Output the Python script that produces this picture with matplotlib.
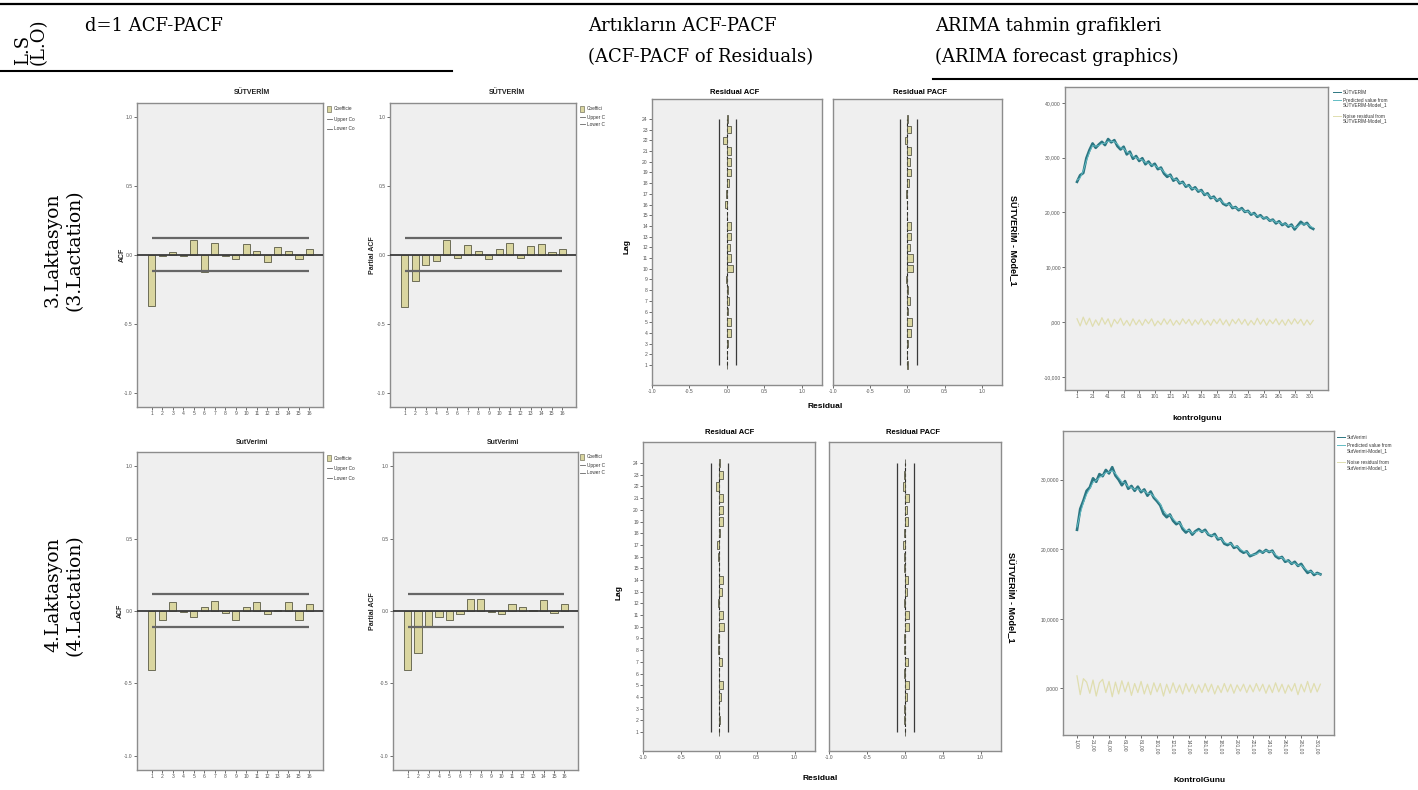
import matplotlib
matplotlib.use("Agg")
import matplotlib.pyplot as plt
from matplotlib.patches import Rectangle
from matplotlib.lines import Line2D

# d=1 ACF / PACF (lags 1-16)
lags16 = list(range(1, 17))
acf_l3 = [-0.37, -0.01, 0.02, -0.01, 0.11, -0.12, 0.09, -0.01,
          -0.03, 0.08, 0.03, -0.05, 0.06, 0.03, -0.03, 0.04]
pacf_l3 = [-0.375, -0.19, -0.07, -0.045, 0.11, -0.02, 0.075, 0.03,
           -0.03, 0.04, 0.085, -0.02, 0.065, 0.08, 0.02, 0.045]
acf_l4 = [-0.41, -0.06, 0.065, -0.01, -0.04, 0.03, 0.07, -0.015,
          -0.06, 0.03, 0.06, -0.02, 0.005, 0.063, -0.063, 0.047]
pacf_l4 = [-0.41, -0.29, -0.11, -0.04, -0.06, -0.02, 0.08, 0.08,
           -0.01, -0.02, 0.05, 0.03, 0.005, 0.075, -0.015, 0.045]
ci_l3 = [0.12, -0.115]
ci_l4 = [0.118, -0.11]
# legend labels, cut off by the neighbouring chart
acf_leg = ["Coefficie", "Upper Co", "Lower Co"]
pacf_leg = ["Coeffici", "Upper C", "Lower C"]

# residual ACF / PACF (lags 1-24)
lags24 = list(range(1, 25))
res_acf_l3 = [0.005, -0.005, 0.01, 0.05, 0.06, 0.01, 0.03, 0.01, -0.01, 0.08, 0.06, 0.04,
              0.05, 0.05, -0.005, -0.02, -0.01, 0.03, 0.05, 0.05, 0.06, -0.05, 0.06, 0.01]
res_pacf_l3 = [0.005, -0.005, 0.01, 0.05, 0.06, 0.005, 0.03, 0.005, -0.02, 0.07, 0.07, 0.04,
               0.05, 0.05, -0.005, -0.01, -0.02, 0.02, 0.05, 0.03, 0.05, -0.03, 0.05, 0.01]
res_acf_l4 = [0.005, 0.01, 0.005, 0.03, 0.06, 0.005, 0.04, -0.01, -0.01, 0.07, 0.05, -0.005,
              0.04, 0.05, 0.005, -0.01, -0.02, 0.02, 0.05, 0.05, 0.06, -0.04, 0.06, 0.01]
res_pacf_l4 = [0.005, -0.01, -0.005, 0.03, 0.05, -0.01, 0.04, -0.005, -0.01, 0.06, 0.05, -0.005,
               0.03, 0.04, -0.01, -0.005, -0.02, -0.01, 0.04, 0.03, 0.05, -0.02, -0.01, 0.005]
res_ci = [-0.10, 0.125]

# ARIMA: control day, observed milk yield, model prediction, noise residual
days = list(range(1, 306, 4))
day_ticks = list(range(1, 302, 20))
obs_l3 = [25.6, 26.8, 27.2, 29.9, 31.4, 32.6, 31.8, 32.4, 32.9, 32.3,
          33.4, 32.8, 33.2, 32.1, 31.5, 32.0, 30.6, 31.1, 29.8, 30.3,
          29.4, 29.9, 28.8, 29.3, 28.5, 28.9, 27.9, 28.2, 27.1, 26.5,
          26.9, 25.8, 26.2, 25.3, 25.6, 24.7, 25.0, 24.2, 24.6, 23.8,
          24.1, 23.2, 23.5, 22.6, 22.9, 22.1, 22.5, 21.6, 21.3, 21.7,
          20.8, 21.0, 20.4, 20.8, 20.1, 20.3, 19.6, 19.9, 19.2, 19.5,
          18.9, 19.1, 18.5, 18.7, 18.0, 18.4, 17.7, 18.0, 17.4, 17.8,
          16.9, 17.6, 18.3, 17.8, 18.1, 17.3, 17.0]
pred_l3 = [25.9, 26.3, 27.6, 29.4, 31.0, 32.2, 32.1, 32.2, 32.6, 32.6,
           33.0, 33.0, 32.9, 32.5, 31.8, 31.7, 31.0, 30.8, 30.2, 30.0,
           29.7, 29.6, 29.1, 29.0, 28.7, 28.6, 28.2, 28.0, 27.4, 26.9,
           26.7, 26.1, 26.0, 25.5, 25.4, 24.9, 24.8, 24.4, 24.4, 24.0,
           23.9, 23.4, 23.3, 22.8, 22.7, 22.3, 22.3, 21.8, 21.5, 21.5,
           21.0, 20.9, 20.6, 20.6, 20.2, 20.2, 19.8, 19.7, 19.4, 19.3,
           19.0, 19.0, 18.6, 18.6, 18.2, 18.2, 17.9, 17.9, 17.6, 17.6,
           17.2, 17.4, 17.9, 17.9, 17.9, 17.5, 17.2]
noise_l3 = [0.6, -0.7, 0.9, -0.5, 0.7, -0.8, 0.4, -0.6, 0.8, -0.4,
            0.6, -0.9, 0.5, -0.3, 0.7, -0.6, 0.3, -0.7, 0.6, -0.5,
            0.4, -0.6, 0.5, -0.3, 0.6, -0.7, 0.2, -0.5, 0.6, -0.4,
            0.5, -0.6, 0.3, -0.5, 0.6, -0.3, 0.5, -0.6, 0.4, -0.4,
            0.6, -0.5, 0.3, -0.6, 0.5, -0.3, 0.6, -0.5, 0.4, -0.7,
            0.5, -0.3, 0.6, -0.4, 0.5, -0.6, 0.3, -0.5, 0.7, -0.4,
            0.5, -0.6, 0.4, -0.3, 0.6, -0.5, 0.4, -0.6, 0.5, -0.4,
            0.6, -0.3, 0.5, -0.6, 0.4, -0.5, 0.3]
obs_l4 = [22.8, 25.8, 27.0, 28.4, 28.9, 30.2, 29.7, 30.8, 30.5, 31.4,
          30.9, 31.8, 30.6, 30.0, 29.2, 29.8, 28.7, 29.1, 28.4, 29.0,
          28.2, 28.6, 27.7, 28.3, 27.4, 26.9, 26.3, 25.1, 24.6, 25.0,
          24.1, 23.6, 23.9, 22.9, 22.4, 22.8, 22.1, 22.6, 22.9, 22.5,
          22.8, 22.1, 21.9, 22.2, 21.4, 21.6, 20.8, 20.6, 20.9, 20.2,
          20.4, 19.8, 19.5, 19.7, 19.0, 19.2, 19.4, 19.8, 19.5, 19.9,
          19.6, 19.8, 19.0, 18.7, 18.9, 18.2, 18.4, 17.9, 18.2, 17.6,
          17.9, 17.2, 16.6, 16.9, 16.3, 16.6, 16.4]
pred_l4 = [23.2, 25.1, 26.7, 27.9, 28.7, 29.6, 29.9, 30.3, 30.6, 31.0,
           31.1, 31.3, 30.9, 30.3, 29.7, 29.5, 29.0, 28.9, 28.6, 28.7,
           28.4, 28.4, 28.0, 28.0, 27.6, 27.1, 26.5, 25.6, 25.0, 24.9,
           24.4, 23.9, 23.8, 23.2, 22.7, 22.7, 22.3, 22.5, 22.7, 22.6,
           22.6, 22.2, 22.0, 22.0, 21.6, 21.5, 21.0, 20.8, 20.8, 20.4,
           20.4, 20.0, 19.7, 19.6, 19.2, 19.2, 19.3, 19.6, 19.6, 19.8,
           19.7, 19.7, 19.2, 18.9, 18.8, 18.4, 18.3, 18.0, 18.0, 17.7,
           17.7, 17.3, 16.9, 16.8, 16.5, 16.5, 16.4]
noise_l4 = [1.8, -0.9, 1.4, 0.9, -0.7, 1.2, -1.1, 0.8, 1.3, -0.6,
            1.0, -1.2, 0.9, -0.8, 1.1, -0.5, 0.9, -1.0, 0.7, -0.6,
            1.0, -0.8, 0.6, -0.9, 0.8, -0.5, 0.7, -1.1, 0.6, -0.7,
            0.8, -0.6, 0.5, -0.8, 0.7, -0.5, 0.6, -0.7, 0.5, -0.6,
            0.7, -0.5, 0.6, -0.8, 0.4, -0.6, 0.7, -0.5, 0.6, -0.7,
            0.5, -0.4, 0.6, -0.6, 0.5, -0.5, 0.7, -0.4, 0.6, -0.7,
            0.5, -0.6, 0.8, -0.5, 0.6, -0.7, 0.5, -0.4, 0.7, -0.9,
            0.6, -0.5, 1.0, -0.6, 0.7, -0.5, 0.6]

W, H = 1418, 790
SANS = "Liberation Sans"
SERIF = "DejaVu Serif"
BG = "#efefef"
SPINE = "#8c8c8c"
BAR = "#dad6a0"
BAR_EDGE = "#5a5a44"
CI = "#666666"
OBS = "#2c7682"
PRED = "#62bcc4"
NOISE = "#e0deb0"

plt.rcParams["font.family"] = SANS
fig = plt.figure(figsize=(W / 100, H / 100), dpi=100)
fig.patch.set_facecolor("white")


def box(x0, y0, x1, y1):
    return [x0 / W, 1 - y1 / H, (x1 - x0) / W, (y1 - y0) / H]


def fx(x):
    return x / W


def fy(y):
    return 1 - y / H


def style(ax):
    ax.set_facecolor(BG)
    for s in ax.spines.values():
        s.set_color(SPINE)
        s.set_linewidth(1.0)
    ax.tick_params(labelsize=3.6, length=2, width=0.6, colors="#555555", pad=1)


def canvas(x0, y0, x1, y1):
    c = fig.add_axes(box(x0, y0, x1, y1))
    c.axis("off")
    return c


def ptext(x, y, s, **kw):
    fig.text(fx(x), fy(y), s, **kw)


def acf_legend(c, x, ys, names):
    c.add_patch(Rectangle((fx(x), fy(ys[0] + 3)), 4 / W, 6 / H, transform=fig.transFigure,
                          facecolor=BAR, edgecolor=BAR_EDGE, lw=0.4))
    for y in ys[1:]:
        c.add_line(Line2D([fx(x), fx(x + 5)], [fy(y), fy(y)], transform=fig.transFigure,
                          color=CI, lw=0.6))
    for y, t in zip(ys, names):
        c.text(fx(x + 7), fy(y), t, transform=fig.transFigure, fontsize=3.4,
               va="center", ha="left", color="#333333", clip_on=True)


def acf_panel(b, vals, ci, ylab, ylab_x, title, title_x, title_y):
    ax = fig.add_axes(box(*b))
    style(ax)
    ax.bar(lags16, vals, width=0.7, color=BAR, edgecolor=BAR_EDGE, linewidth=0.6, zorder=2)
    ax.hlines(ci, 1, 16, color=CI, lw=1.6, zorder=3)
    ax.axhline(0, color="#3a3a3a", lw=1.3, zorder=4)
    ax.set_xlim(-0.4, 17.3)
    ax.set_ylim(-1.1, 1.1)
    ax.set_xticks(lags16)
    ax.set_xticklabels([str(l) for l in lags16])
    ax.set_yticks([-1, -0.5, 0, 0.5, 1])
    ax.set_yticklabels(["-1.0", "-0.5", "0.0", "0.5", "1.0"])
    ymid = (b[1] + b[3]) / 2
    ptext(ylab_x, ymid, ylab, rotation=90, fontsize=5, fontweight="bold",
          ha="center", va="center", color="#222222")
    ptext(title_x, title_y, title, fontsize=5, fontweight="bold", ha="center",
          va="center", color="#222222")
    return ax


def resid_panel(b, vals, ylim, show_lags):
    ax = fig.add_axes(box(*b))
    style(ax)
    ax.vlines(0, 1, 24, color="#222222", lw=0.8, linestyles=(0, (3, 2)), zorder=1)
    ax.barh(lags24, vals, height=0.7, color=BAR, edgecolor="#3d3d30", linewidth=0.5, zorder=2)
    ax.vlines(res_ci, 1, 24, color="#3a3a3a", lw=0.9, zorder=3)
    ax.set_xlim(-1.0, 1.27)
    ax.set_ylim(*ylim)
    ax.set_xticks([-1, -0.5, 0, 0.5, 1])
    ax.set_xticklabels(["-1.0", "-0.5", "0.0", "0.5", "1.0"])
    ax.set_yticks(lags24)
    if show_lags:
        ax.set_yticklabels([str(l) for l in lags24])
    else:
        ax.tick_params(axis="y", left=False, labelleft=False)
    return ax


def arima_panel(b, obs, pred, noise, ylim, xlim, yt, ytl, xtl, xrot):
    ax = fig.add_axes(box(*b))
    style(ax)
    ax.plot(days, noise, color=NOISE, lw=0.9)
    ax.plot(days, obs, color=OBS, lw=1.9)
    ax.plot(days, pred, color=PRED, lw=0.7)
    ax.set_xlim(*xlim)
    ax.set_ylim(*ylim)
    ax.set_yticks(yt)
    ax.set_yticklabels(ytl)
    ax.set_xticks(day_ticks)
    ax.set_xticklabels(xtl, rotation=xrot)
    return ax


def arima_legend(c, x, rows):
    for y, col, t in rows:
        c.add_line(Line2D([fx(x), fx(x + 8)], [fy(y), fy(y)], transform=fig.transFigure,
                          color=col, lw=0.7))
        c.text(fx(x + 10), fy(y - 2), t, transform=fig.transFigure, fontsize=3.4,
               va="top", ha="left", color="#333333", linespacing=1.0, clip_on=True)


# ---- header rows ----
fig.add_artist(Line2D([0, 1], [fy(4), fy(4)], transform=fig.transFigure, color="black", lw=1.6))
fig.add_artist(Line2D([0, fx(452)], [fy(71), fy(71)], transform=fig.transFigure, color="black", lw=1.5))
fig.add_artist(Line2D([fx(933), 1], [fy(79), fy(79)], transform=fig.transFigure, color="black", lw=1.5))

hdr = dict(family=SERIF, fontsize=13, color="black")
ptext(28, 65, "L.S", rotation=90, rotation_mode="anchor", ha="left", va="baseline", **hdr)
ptext(44, 65, "(L.O)", rotation=90, rotation_mode="anchor", ha="left", va="baseline", **hdr)
ptext(85, 31, "d=1 ACF-PACF", ha="left", va="baseline", **hdr)
ptext(588, 31, "Artıkların ACF-PACF", ha="left", va="baseline", **hdr)
ptext(588, 62, "(ACF-PACF of Residuals)", ha="left", va="baseline", **hdr)
ptext(935, 31, "ARIMA tahmin grafikleri", ha="left", va="baseline", **hdr)
ptext(935, 62, "(ARIMA forecast graphics)", ha="left", va="baseline", **hdr)

row = dict(family=SERIF, fontsize=13.5, color="black", rotation=90,
           rotation_mode="anchor", ha="center", va="baseline")
ptext(58, 250, "3.Laktasyon", **row)
ptext(80, 250, "(3.Lactation)", **row)
ptext(58, 595, "4.Laktasyon", **row)
ptext(80, 595, "(4.Lactation)", **row)

# ---- d=1 ACF / PACF, 3rd lactation ----
c = canvas(100, 80, 357, 420)
acf_panel((137, 103, 323, 407), acf_l3, ci_l3, "ACF", 122, "SÜTVERİM", 252, 93)
acf_legend(c, 327, [109, 119, 129], acf_leg)
c = canvas(357, 80, 612, 420)
acf_panel((390, 103, 576, 407), pacf_l3, ci_l3, "Partial ACF", 372, "SÜTVERİM", 507, 93)
acf_legend(c, 580, [109, 117, 124], pacf_leg)

# ---- d=1 ACF / PACF, 4th lactation ----
c = canvas(100, 425, 357, 790)
acf_panel((137, 452, 323, 770), acf_l4, ci_l4, "ACF", 120, "SutVerimi", 252, 443)
acf_legend(c, 327, [458, 468, 478], acf_leg)
c = canvas(357, 425, 612, 790)
acf_panel((393, 452, 578, 770), pacf_l4, ci_l4, "Partial ACF", 373, "SutVerimi", 503, 443)
acf_legend(c, 580, [457, 465, 473], pacf_leg)

# ---- residual ACF / PACF ----
resid_panel((652, 99, 822, 385), res_acf_l3, (-0.87, 25.87), True)
resid_panel((833, 99, 1002, 385), res_pacf_l3, (-0.87, 25.87), False)
ptext(735, 92, "Residual ACF", fontsize=5.5, fontweight="bold", ha="center", va="center")
ptext(920, 92, "Residual PACF", fontsize=5.5, fontweight="bold", ha="center", va="center")
ptext(627, 247, "Lag", rotation=90, fontsize=6, fontweight="bold", ha="center", va="center")
ptext(825, 407, "Residual", fontsize=6, fontweight="bold", ha="center", va="center")

resid_panel((643, 442, 815, 751), res_acf_l4, (-0.62, 25.8), True)
resid_panel((829, 442, 1001, 751), res_pacf_l4, (-0.62, 25.8), False)
ptext(730, 432, "Residual ACF", fontsize=5.5, fontweight="bold", ha="center", va="center")
ptext(913, 432, "Residual PACF", fontsize=5.5, fontweight="bold", ha="center", va="center")
ptext(619, 593, "Lag", rotation=90, fontsize=6, fontweight="bold", ha="center", va="center")
ptext(820, 778, "Residual", fontsize=6, fontweight="bold", ha="center", va="center")

# ---- ARIMA forecast plots ----
c = canvas(1000, 80, 1418, 420)
arima_panel((1065, 87, 1328, 390), obs_l3, pred_l3, noise_l3, (-12.4, 42.9), (-14.5, 324),
            [-10, 0, 10, 20, 30, 40], ["-10,000", ",000", "10,000", "20,000", "30,000", "40,000"],
            [str(d) for d in day_ticks], 0)
arima_legend(c, 1333, [(92, OBS, "SÜTVERİM"),
                       (100, PRED, "Predicted value from\nSÜTVERİM-Model_1"),
                       (116, NOISE, "Noise residual from\nSÜTVERİM-Model_1")])
ptext(1197, 418, "kontrolgunu", fontsize=6, fontweight="bold", ha="center", va="center")
ptext(1012, 240, "SÜTVERİM - Model_1", rotation=270, fontsize=6.5, fontweight="bold",
      ha="center", va="center")

c = canvas(1000, 425, 1418, 790)
arima_panel((1063, 431, 1334, 735), obs_l4, pred_l4, noise_l4, (-6.7, 37), (-16.5, 322),
            [0, 10, 20, 30], [",0000", "10,0000", "20,0000", "30,0000"],
            ["%d,00" % d for d in day_ticks], 270)
arima_legend(c, 1337, [(437, OBS, "SutVerimi"),
                       (445, PRED, "Predicted value from\nSutVerimi-Model_1"),
                       (462, NOISE, "Noise residual from\nSutVerimi-Model_1")])
ptext(1200, 780, "KontrolGunu", fontsize=6, fontweight="bold", ha="center", va="center")
ptext(1010, 597, "SÜTVERİM - Model_1", rotation=270, fontsize=6.5, fontweight="bold",
      ha="center", va="center")

fig.savefig("out.png", dpi=100)
